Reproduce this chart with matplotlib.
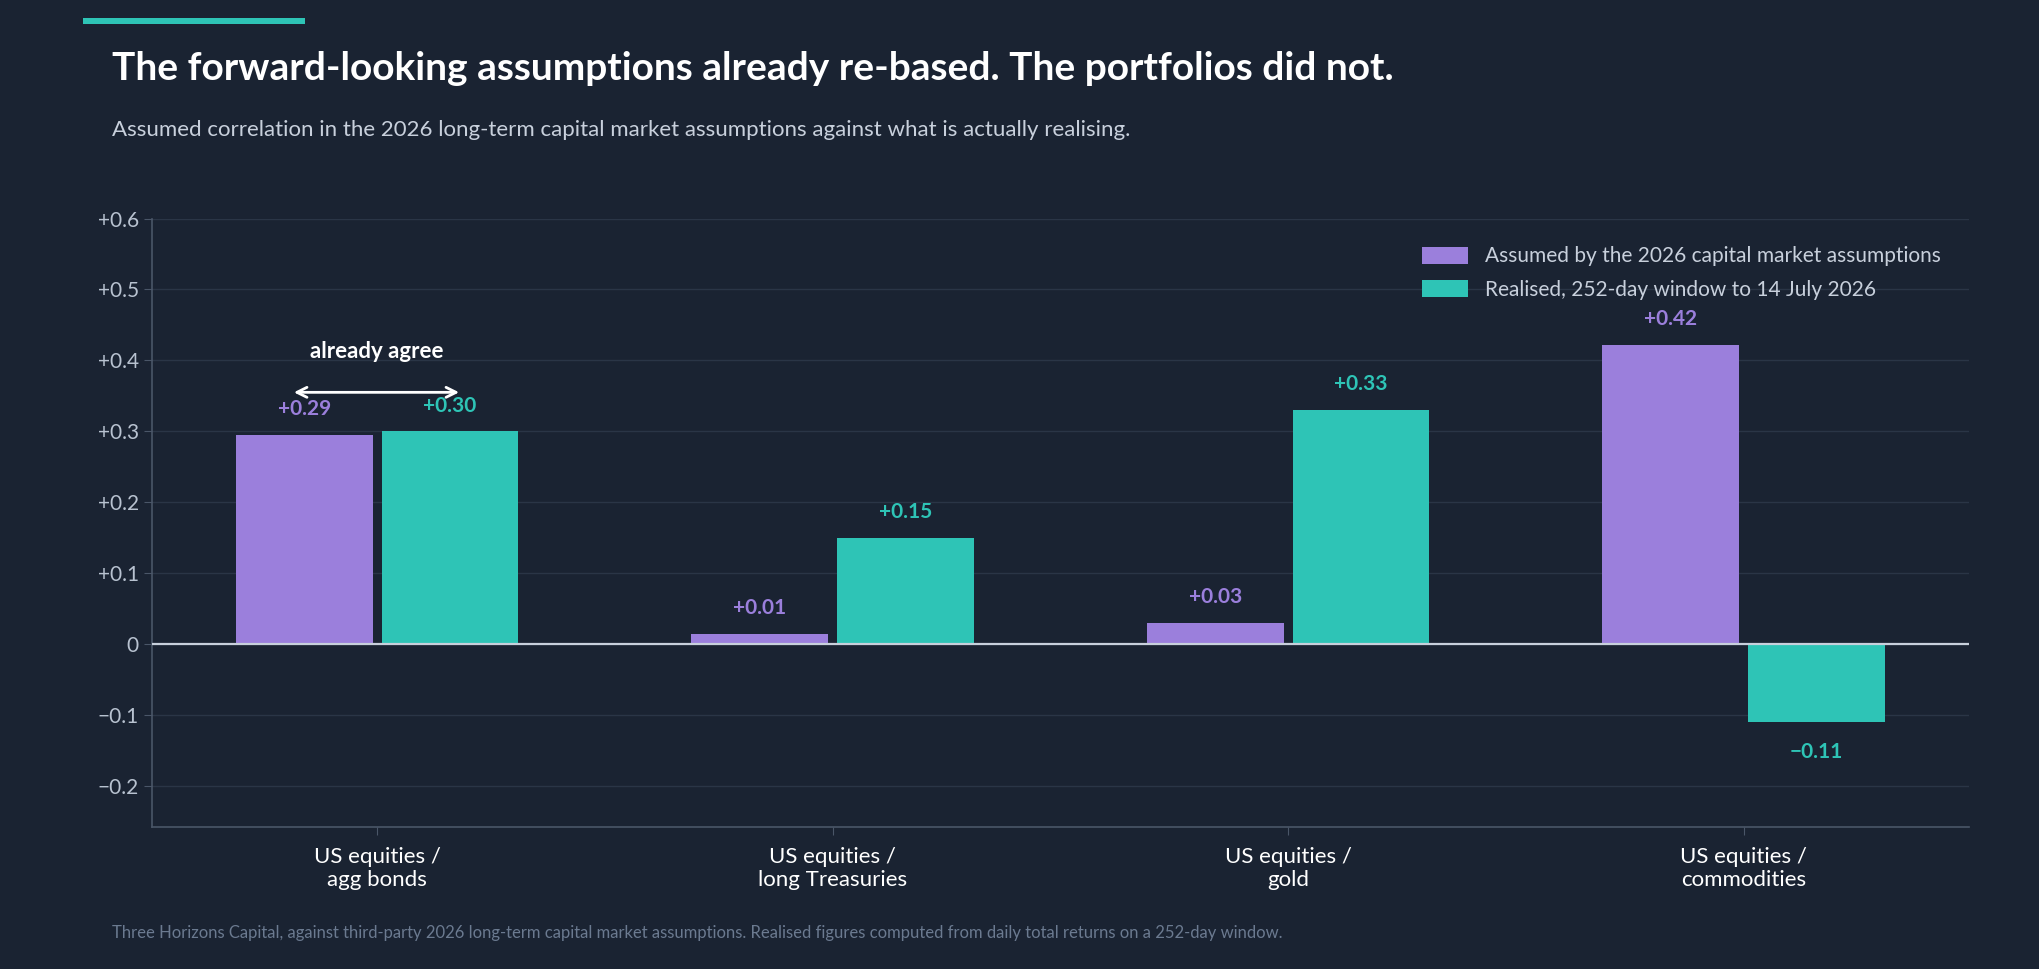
import matplotlib
matplotlib.use("Agg")
import matplotlib.pyplot as plt
import numpy as np
from matplotlib.patches import Rectangle

categories = ["US equities /\nagg bonds", "US equities /\nlong Treasuries", "US equities /\ngold", "US equities /\ncommodities"]
assumed = [0.295, 0.015, 0.03, 0.422]
realised = [0.30, 0.15, 0.33, -0.11]
assumed_labels = ["+0.29", "+0.01", "+0.03", "+0.42"]
realised_labels = ["+0.30", "+0.15", "+0.33", "\u22120.11"]
yticks = [-0.2, -0.1, 0, 0.1, 0.2, 0.3, 0.4, 0.5, 0.6]
ytick_labels = ["\u22120.2", "\u22120.1", "0", "+0.1", "+0.2", "+0.3", "+0.4", "+0.5", "+0.6"]

BG = "#1a2332"
PURPLE = "#9b7fdc"
TEAL = "#2ec4b6"
plt.rcParams['font.family'] = ['Lato', 'DejaVu Sans']

fig = plt.figure(figsize=(20.4, 9.69), dpi=100, facecolor=BG)
ax = fig.add_axes([0.0746, 0.1463, 0.8904, 0.6282], facecolor=BG)

x = np.arange(len(categories))
w = 0.3
ax.bar(x - 0.16, assumed, w, color=PURPLE, label="Assumed by the 2026 capital market assumptions", zorder=3)
ax.bar(x + 0.16, realised, w, color=TEAL, label="Realised, 252-day window to 14 July 2026", zorder=3)

for i in range(len(x)):
    ax.text(x[i] - 0.16, assumed[i] + 0.022, assumed_labels[i], ha="center", va="bottom",
            color=PURPLE, fontsize=15, fontweight="bold")
    v = realised[i]
    if v >= 0:
        ax.text(x[i] + 0.16, v + 0.022, realised_labels[i], ha="center", va="bottom",
                color=TEAL, fontsize=15, fontweight="bold")
    else:
        ax.text(x[i] + 0.16, v - 0.028, realised_labels[i], ha="center", va="top",
                color=TEAL, fontsize=15, fontweight="bold")

ax.annotate("", xy=(0.186, 0.355), xytext=(-0.189, 0.355),
            arrowprops=dict(arrowstyle="<->", color="white", lw=2, mutation_scale=18), zorder=4)
ax.text(0, 0.412, "already agree", ha="center", va="center", color="white",
        fontsize=16, fontweight="bold")

ax.set_xlim(-0.494, 3.494)
ax.set_ylim(-0.258, 0.6)
ax.set_yticks(yticks)
ax.set_yticklabels(ytick_labels)
ax.set_xticks(x)
ax.set_xticklabels(categories)
ax.tick_params(axis="y", colors="#b8c2d0", labelsize=15, length=6, color="#4a5668")
ax.tick_params(axis="x", colors="white", labelsize=16, length=6, color="#4a5668", pad=8)
for lbl in ax.get_xticklabels():
    lbl.set_color("white")
ax.grid(axis="y", color="#2a3546", lw=1, zorder=0)
ax.axhline(0, color="#c8d0dc", lw=1.6, zorder=4)
for s in ["top", "right"]:
    ax.spines[s].set_visible(False)
ax.spines["left"].set_color("#4a5668")
ax.spines["bottom"].set_color("#4a5668")
ax.spines["left"].set_linewidth(1.2)
ax.spines["bottom"].set_linewidth(1.2)

leg = ax.legend(loc="upper right", bbox_to_anchor=(0.995, 0.985), frameon=False, fontsize=15,
                labelcolor="#c8d0dc", handlelength=2.2, handleheight=0.9, labelspacing=0.65)

fig.patches.append(Rectangle((0.0408, 0.975), 0.1086, 0.0065, transform=fig.transFigure,
                             facecolor=TEAL, edgecolor="none"))
fig.text(0.055, 0.929, "The forward-looking assumptions already re-based. The portfolios did not.",
         color="white", fontsize=28, fontweight="bold", va="center")
fig.text(0.055, 0.866, "Assumed correlation in the 2026 long-term capital market assumptions against what is actually realising.",
         color="#c8d0dc", fontsize=16, va="center")
fig.text(0.055, 0.037, "Three Horizons Capital, against third-party 2026 long-term capital market assumptions. Realised figures computed from daily total returns on a 252-day window.",
         color="#6b7a90", fontsize=12, va="center")

fig.savefig("out.png", dpi=100, facecolor=BG)
